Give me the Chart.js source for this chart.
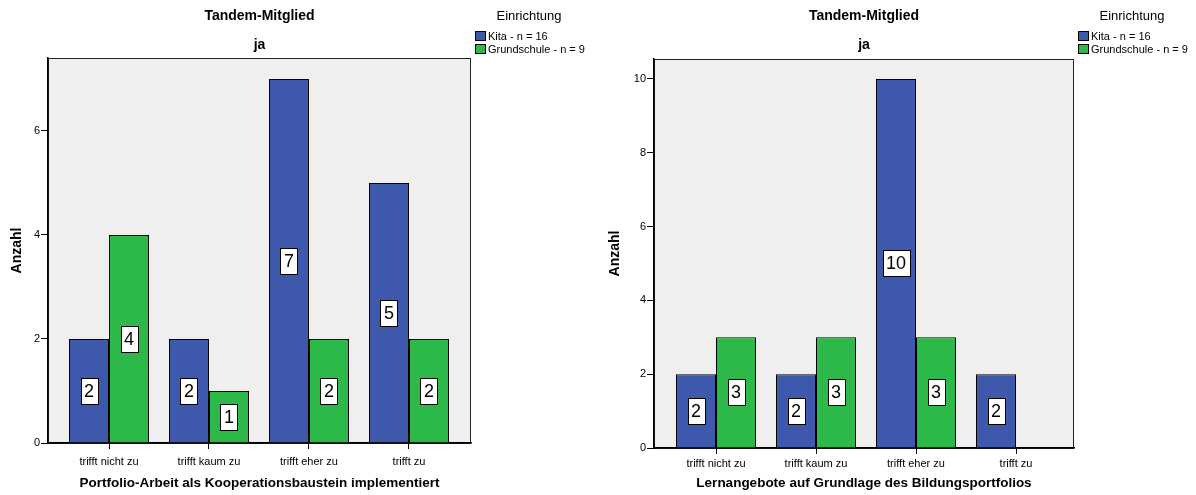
<!DOCTYPE html>
<html>
<head>
<meta charset="utf-8">
<script src="https://cdn.jsdelivr.net/npm/chart.js@4.4.1/dist/chart.umd.min.js"></script>
<style>
  html, body { margin: 0; padding: 0; background: #fff; }
  #wrap { position: relative; width: 1196px; height: 495px; }
  .box { position: absolute; top: 0; width: 598px; height: 495px; }
</style>
</head>
<body>
<div id="wrap">
  <div class="box" style="left:0"><canvas id="chartLeft" width="598" height="495"></canvas></div>
  <div class="box" style="left:598px"><canvas id="chartRight" width="598" height="495"></canvas></div>
</div>
<script>
// data
const categories = ['trifft nicht zu', 'trifft kaum zu', 'trifft eher zu', 'trifft zu'];
const seriesNames = ['Kita - n = 16', 'Grundschule - n = 9'];
const kitaPortfolio = [2, 2, 7, 5];
const schulePortfolio = [4, 1, 2, 2];
const kitaLernangebote = [2, 2, 10, 2];
const schuleLernangebote = [3, 3, 3, 0];
const leftTicks = [0, 2, 4, 6];
const rightTicks = [0, 2, 4, 6, 8, 10];

const FONT = '"Liberation Sans", Arial, sans-serif';
Chart.defaults.font.family = FONT;
Chart.defaults.color = '#000';

// plot box, titles, legend and value boxes in the SPSS look
const spssDecor = {
  id: 'spssDecor',
  beforeDraw(chart) {
    const { ctx, chartArea: a } = chart;
    ctx.save();
    ctx.fillStyle = '#efefef';
    ctx.fillRect(a.left, a.top, a.right - a.left, a.bottom - a.top);
    ctx.strokeStyle = '#222';
    ctx.lineWidth = 1;
    ctx.strokeRect(a.left + 0.5, a.top + 0.5, a.right - a.left - 1, a.bottom - a.top);
    ctx.restore();
  },
  afterDraw(chart) {
    const { ctx, chartArea: a } = chart;
    const mid = (a.left + a.right) / 2;
    ctx.save();
    ctx.fillStyle = '#000';
    ctx.textAlign = 'center';
    ctx.textBaseline = 'middle';
    ctx.font = 'bold 14px ' + FONT;
    ctx.fillText('Tandem-Mitglied', mid, 16);
    ctx.fillText('ja', mid, 45);

    // legend
    ctx.font = '13px ' + FONT;
    ctx.fillText('Einrichtung', a.right + 58, 16);
    ctx.font = '11px ' + FONT;
    ctx.textAlign = 'left';
    chart.data.datasets.forEach((ds, i) => {
      const y = 31 + i * 13;
      ctx.fillStyle = ds.backgroundColor;
      ctx.fillRect(a.right + 4, y, 11, 10);
      ctx.strokeStyle = '#000';
      ctx.strokeRect(a.right + 4.5, y + 0.5, 10, 9);
      ctx.fillStyle = '#000';
      ctx.fillText(ds.label, a.right + 17, y + 5.5);
    });

    // value labels in white boxes
    ctx.font = '18px ' + FONT;
    ctx.textAlign = 'center';
    chart.data.datasets.forEach((ds, i) => {
      chart.getDatasetMeta(i).data.forEach((bar, j) => {
        const v = ds.data[j].y;
        if (!v) return;
        const cy = (bar.y + bar.base) / 2;
        const txt = String(v);
        const w = Math.round(ctx.measureText(txt).width + 7);
        const h = 26;
        const x0 = Math.round(bar.x - w / 2) + 0.5;
        const y0 = Math.round(cy - h / 2) + 0.5;
        ctx.fillStyle = '#fff';
        ctx.fillRect(x0, y0, w, h);
        ctx.strokeStyle = '#000';
        ctx.lineWidth = 1;
        ctx.strokeRect(x0, y0, w, h);
        ctx.fillStyle = '#000';
        ctx.fillText(txt, bar.x, cy + 1);
      });
    });
    ctx.restore();
  }
};

function makeChart(id, kita, schule, yMax, yTicks, xTitle, plot) {
  return new Chart(document.getElementById(id), {
    type: 'bar',
    data: {
      datasets: [
        { label: seriesNames[0], data: kita.map((v, i) => ({ x: i, y: v })),
          backgroundColor: '#3e58ac', borderColor: '#000', borderWidth: 1 },
        { label: seriesNames[1], data: schule.map((v, i) => ({ x: i, y: v })),
          backgroundColor: '#2db84a', borderColor: '#000', borderWidth: 1 }
      ]
    },
    options: {
      responsive: false,
      animation: false,
      layout: { padding: { left: 0, top: plot.top, right: 598 - plot.right, bottom: 0 } },
      datasets: { bar: { barPercentage: 1, categoryPercentage: 0.8 } },
      plugins: { legend: { display: false }, tooltip: { enabled: false } },
      scales: {
        x: {
          type: 'linear', min: plot.xMin, max: plot.xMax, offset: false, z: 1,
          afterBuildTicks: s => { s.ticks = categories.map((c, i) => ({ value: i })); },
          afterFit: s => { s.height = 495 - plot.bottom; },
          grid: { offset: false, drawOnChartArea: false, drawTicks: true, tickLength: 6,
                  color: '#000', lineWidth: 1 },
          border: { color: '#000', width: 1.5 },
          ticks: { autoSkip: false, maxRotation: 0, padding: plot.tickPad, font: { size: 11 },
                   callback: v => categories[v] },
          title: { display: true, text: xTitle, font: { size: 13.5, weight: 'bold' },
                   padding: { top: 0, bottom: 4 } }
        },
        y: {
          min: 0, max: yMax, z: 1,
          afterBuildTicks: s => { s.ticks = yTicks.map(v => ({ value: v })); },
          afterFit: s => { s.width = plot.left; },
          grid: { drawOnChartArea: false, tickLength: 7, color: '#000' },
          border: { color: '#000', width: 1.5 },
          ticks: { padding: 1, font: { size: 11 } },
          title: { display: true, text: 'Anzahl', font: { size: 14, weight: 'bold' },
                   padding: { top: 9, bottom: 0 } }
        }
      }
    },
    plugins: [spssDecor]
  });
}

makeChart('chartLeft', kitaPortfolio, schulePortfolio, 7.4038, leftTicks,
  'Portfolio-Arbeit als Kooperationsbaustein implementiert',
  { left: 48, right: 471, top: 58, bottom: 443, tickPad: 6, xMin: -0.61, xMax: 3.62 });
makeChart('chartRight', kitaLernangebote, schuleLernangebote, 10.54, rightTicks,
  'Lernangebote auf Grundlage des Bildungsportfolios',
  { left: 56, right: 476, top: 59, bottom: 448, tickPad: 3, xMin: -0.62, xMax: 3.58 });
</script>
</body>
</html>
